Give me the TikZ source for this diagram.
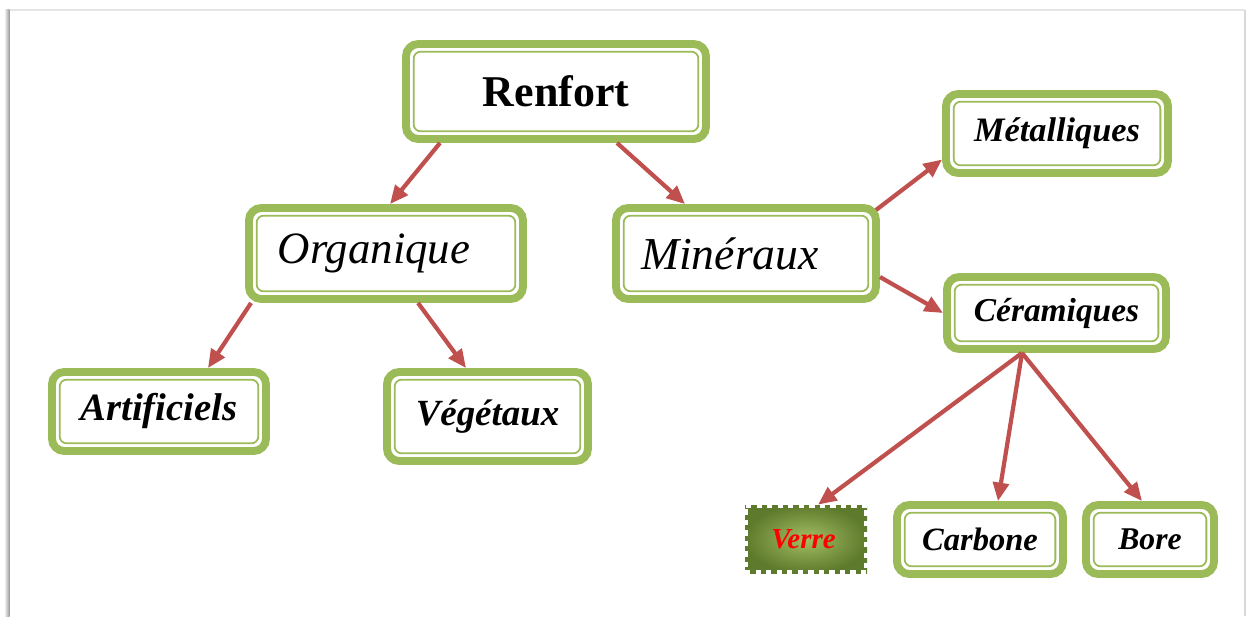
\documentclass[tikz,border=0pt]{standalone}
\usepackage{fontspec}
\setmainfont{Liberation Serif}
\usetikzlibrary{arrows.meta}
\definecolor{rfgreen}{HTML}{9BBB59}
\definecolor{rfred}{HTML}{C0504D}
\definecolor{rfolive}{HTML}{A3BE63}
\definecolor{rfdark}{HTML}{5E7A2C}
\tikzset{
  rfbox/.style={draw=rfgreen, line width=4.5pt, rounded corners=7pt, fill=white,
    align=center, inner sep=2pt, font=\bfseries\itshape},
  rfinner/.style={draw=rfgreen, line width=1pt, rounded corners=4pt},
  rfstamp/.style={inner color=rfolive, outer color=rfdark, align=center,
    minimum width=2.44cm, minimum height=1.36cm, text=red,
    postaction={draw=white, line width=3.4pt, dash pattern=on 3pt off 3pt}},
  rfarrow/.style={-{Triangle[length=10.5pt,width=9pt]}, line width=2.4pt, draw=rfred}
}
\newcommand{\rfsize}[1]{\fontsize{#1}{#1}\selectfont}

\begin{document}
\begin{tikzpicture}
  \useasboundingbox (0,0) rectangle (24.92,12.32);
  % page frame
  \fill[left color=white, right color=black!40] (0.08,0) rectangle (0.19,12.12);
  \draw[black!10, line width=0.6pt] (0.19,12.12) -- (24.9,12.12);
  \draw[black!15, line width=0.6pt] (24.9,12.12) -- (24.9,0);

  \node[rfbox, font=\bfseries\rfsize{25pt}, minimum width=6.0cm, minimum height=1.9cm] (renfort) at (11.12,10.49) {Renfort};
  \node[rfbox, font=\itshape\rfsize{25.5pt}, minimum width=5.48cm, minimum height=1.82cm] (organ) at (7.72,7.25) {Organique\hspace{0.48cm}};
  \node[rfbox, font=\itshape\rfsize{26pt}, minimum width=5.2cm, minimum height=1.82cm] (miner) at (14.92,7.25) {Minéraux\hspace{0.64cm}};
  \node[rfbox, font=\bfseries\itshape\rfsize{19.5pt}, minimum width=4.44cm, minimum height=1.58cm] (metal) at (21.14,9.65) {Métalliques};
  \node[rfbox, font=\bfseries\itshape\rfsize{19pt}, minimum width=4.38cm, minimum height=1.44cm] (ceram) at (21.13,6.06) {Céramiques};
  \node[rfbox, font=\bfseries\itshape\rfsize{22pt}, minimum width=4.28cm, minimum height=1.58cm] (artif) at (3.18,4.09) {Artificiels};
  \node[rfbox, font=\bfseries\itshape\rfsize{21pt}, minimum width=4.02cm, minimum height=1.78cm] (veget) at (9.75,3.99) {Végétaux};
  \node[rfstamp, font=\bfseries\itshape\rfsize{16.5pt}] (verre) at (16.12,1.54) {Verre\hspace{0.1cm}};
  \node[rfbox, font=\bfseries\itshape\rfsize{18.5pt}, minimum width=3.32cm, minimum height=1.38cm] (carb) at (19.60,1.53) {Carbone};
  \node[rfbox, font=\bfseries\itshape\rfsize{18pt}, minimum width=2.56cm, minimum height=1.38cm] (bore) at (23.00,1.53) {Bore};

  \foreach \n in {renfort,organ,miner,metal,ceram,artif,veget,carb,bore}
    \draw[rfinner] ([shift={(6.6pt,-6.6pt)}]\n.north west) rectangle ([shift={(-6.6pt,6.6pt)}]\n.south east);

  \draw[rfarrow] ([xshift=-2.32cm]renfort.south) -- ([xshift=0.08cm]organ.north);
  \draw[rfarrow] ([xshift=1.22cm]renfort.south) -- ([xshift=-1.22cm]miner.north);
  \draw[rfarrow] ([xshift=0.12cm]organ.south west) -- ([xshift=0.98cm]artif.north);
  \draw[rfarrow] ([xshift=0.64cm]organ.south) -- ([xshift=-0.43cm]veget.north);
  \draw[rfarrow] ([xshift=-0.08cm,yshift=-0.12cm]miner.north east) -- ([yshift=-0.52cm]metal.west);
  \draw[rfarrow] ([yshift=-0.47cm]miner.east) -- (ceram.west);
  \draw[rfarrow] ([xshift=-0.69cm]ceram.south) -- ([xshift=0.24cm]verre.north);
  \draw[rfarrow] ([xshift=-0.69cm]ceram.south) -- ([xshift=0.36cm]carb.north);
  \draw[rfarrow] ([xshift=-0.69cm]ceram.south) -- ([xshift=-0.16cm]bore.north);
\end{tikzpicture}
\end{document}
